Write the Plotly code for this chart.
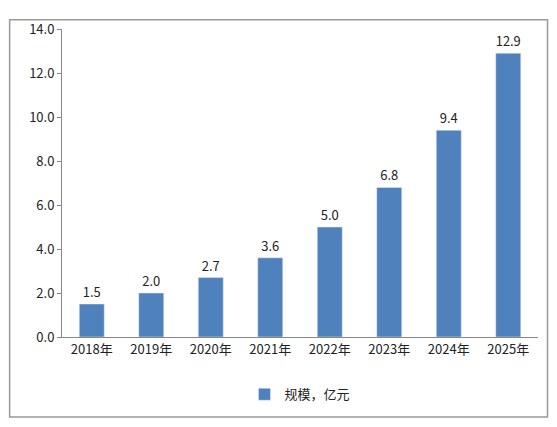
import plotly.graph_objects as go

years = ["2018年","2019年","2020年","2021年","2022年","2023年","2024年","2025年"]
values = [1.5, 2.0, 2.7, 3.6, 5.0, 6.8, 9.4, 12.9]
series_name = "规模，亿元"

fig = go.Figure(go.Bar(
    x=years, y=values, name=series_name, marker_color="#4F81BD",
    text=[f"{v:.1f}" for v in values], textposition="outside",
    textfont=dict(size=13, color="#222"), width=0.42, cliponaxis=False,
))
fig.update_layout(
    width=549, height=419, margin=dict(l=54, r=19, t=11, b=90),
    paper_bgcolor="white", plot_bgcolor="white",
    font=dict(family="Noto Sans CJK SC, DejaVu Sans", size=13, color="#222"),
    showlegend=True,
    legend=dict(orientation="h", x=0.5, xanchor="center", y=-0.186, yanchor="middle",
                font=dict(size=13)),
    yaxis=dict(range=[0, 14], dtick=2, tickformat=".1f", showgrid=False,
               showline=True, linecolor="#888", ticks="outside", ticklen=4,
               tickcolor="#888", zeroline=False),
    xaxis=dict(showline=True, linecolor="#888", showgrid=False),
    shapes=[dict(type="rect", xref="paper", yref="paper",
                 x0=-0.11, x1=1.02, y0=-0.26, y1=1.03,
                 line=dict(color="#999", width=1.5))],
)
fig.write_html("out.html")
